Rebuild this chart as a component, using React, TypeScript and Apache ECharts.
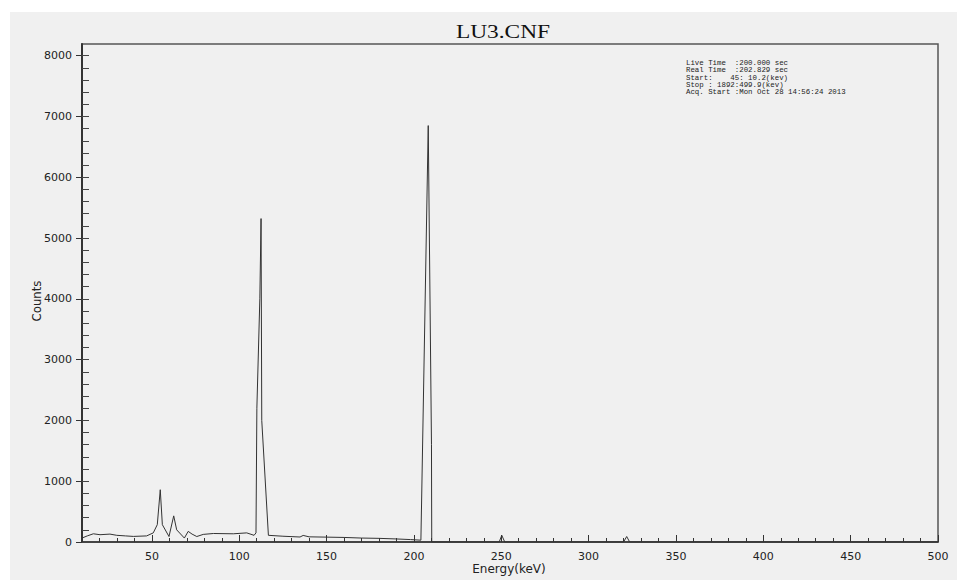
import React, { useEffect, useRef } from "react";
import * as echarts from "echarts";

// Spectrum points: energy (keV) and counts
const energies = [
  10, 13, 16.5, 20.3, 26, 29.9, 35, 39.4, 47, 50.8, 53.1, 54.8, 56, 59.8, 62.5, 64.2,
  68.6, 70.8, 73, 75.7, 79.4, 85.2, 96.6, 104.3, 108.5, 109.6, 110.1, 111.8, 112.5, 112.9,
  116.7, 125, 134.8, 136.6, 140, 150, 160, 170, 180, 190, 198, 204, 208.2, 210.05, 210.2,
  215, 248.8, 250.3, 252, 320, 321.8, 323.5, 500,
];
const counts = [
  65, 100, 135, 120, 130, 110, 100, 92, 100, 150, 285, 860, 285, 90, 430, 200,
  65, 175, 130, 90, 125, 140, 135, 150, 110, 150, 2200, 4000, 5320, 2000,
  110, 95, 82, 108, 85, 80, 75, 65, 60, 50, 40, 30, 6850, 1600, 0,
  0, 0, 110, 0, 0, 90, 0, 0,
];

const xMajor = [50, 100, 150, 200, 250, 300, 350, 400, 450, 500];
const xMinor = [20, 30, 40, 60, 70, 80, 90, 110, 120, 130, 140, 160, 170, 180, 190, 210, 220, 230, 240, 260, 270, 280, 290, 310, 320, 330, 340, 360, 370, 380, 390, 410, 420, 430, 440, 460, 470, 480, 490];
const yMajor = [0, 1000, 2000, 3000, 4000, 5000, 6000, 7000, 8000];
const yMinor = [0, 200, 400, 600, 800, 1000, 1200, 1400, 1600, 1800, 2000, 2200, 2400, 2600, 2800, 3000, 3200, 3400, 3600, 3800, 4000, 4200, 4400, 4600, 4800, 5000, 5200, 5400, 5600, 5800, 6000, 6200, 6400, 6600, 6800, 7000, 7200, 7400, 7600, 7800, 8000];

const titleText = "LU3.CNF";
const xName = "Energy(keV)";
const yName = "Counts";
const infoLines = [
  "Live Time  :200.000 sec",
  "Real Time  :202.829 sec",
  "Start:    45: 10.2(kev)",
  "Stop : 1892:499.9(kev)",
  "Acq. Start :Mon Oct 28 14:56:24 2013",
];

const X_MIN = 10;
const X_MAX = 500;
const Y_MAX = 8192;

export default function App() {
  const ref = useRef<HTMLDivElement>(null);
  useEffect(() => {
    if (!ref.current) return;
    const chart = echarts.init(ref.current, null, { renderer: "svg" });
    const data = energies.map((e, i) => [e, counts[i]]);
    const labelFont = {
      fontFamily: "DejaVu Sans",
      fontSize: 11,
      color: "#222",
      formatter: (v: number) => String(v),
    };
    chart.setOption({
      animation: false,
      backgroundColor: "#ffffff",
      grid: {
        left: 82,
        top: 44,
        right: 38,
        bottom: 38,
        show: true,
        borderColor: "#555",
        borderWidth: 1.5,
        backgroundColor: "transparent",
        containLabel: false,
        outerBoundsMode: "none",
      },
      xAxis: [
        {
          type: "value",
          position: "bottom",
          min: X_MIN,
          max: X_MAX,
          axisLine: { show: true, onZero: false, lineStyle: { color: "#333", width: 1.5 } },
          axisTick: { show: true, inside: true, length: 7, customValues: xMajor, lineStyle: { color: "#333" } },
          axisLabel: { show: true, customValues: xMajor, margin: 9, ...labelFont },
          splitLine: { show: false },
        },
        {
          type: "value",
          position: "bottom",
          min: X_MIN,
          max: X_MAX,
          axisLine: { show: false, onZero: false },
          axisTick: { show: true, inside: true, length: 4, customValues: xMinor, lineStyle: { color: "#333" } },
          axisLabel: { show: false },
          splitLine: { show: false },
        },
      ],
      yAxis: [
        {
          type: "value",
          position: "left",
          min: 0,
          max: Y_MAX,
          axisLine: { show: true, onZero: false, lineStyle: { color: "#333", width: 2 } },
          axisTick: { show: true, inside: false, length: 6, customValues: yMajor, lineStyle: { color: "#333" } },
          axisLabel: { show: true, customValues: yMajor, margin: 10, ...labelFont },
          splitLine: { show: false },
        },
        {
          type: "value",
          position: "left",
          min: 0,
          max: Y_MAX,
          axisLine: { show: false, onZero: false },
          axisTick: { show: true, inside: true, length: 7, customValues: yMinor, lineStyle: { color: "#444" } },
          axisLabel: { show: false },
          splitLine: { show: false },
        },
      ],
      graphic: [
        {
          type: "rect",
          z: -100,
          silent: true,
          shape: { x: 10, y: 12, width: 947, height: 568 },
          style: { fill: "#f0f0f0" },
        },
        {
          type: "text",
          x: 503,
          y: 32,
          scaleX: 1.3,
          style: {
            text: titleText,
            font: "18px 'Liberation Serif'",
            fill: "#111",
            align: "center",
            verticalAlign: "middle",
            textAlign: "center",
            textVerticalAlign: "middle",
          },
        },
        {
          type: "text",
          x: 686,
          y: 59,
          style: {
            text: infoLines.join("\n"),
            font: "7.4px 'Liberation Mono'",
            lineHeight: 7.4,
            fill: "#222",
            align: "left",
            verticalAlign: "top",
            textAlign: "left",
            textVerticalAlign: "top",
          },
        },
        {
          type: "text",
          x: 36,
          y: 301,
          rotation: Math.PI / 2,
          style: {
            text: yName,
            font: "13px 'DejaVu Sans Condensed'",
            fill: "#222",
            align: "center",
            verticalAlign: "middle",
            textAlign: "center",
            textVerticalAlign: "middle",
          },
        },
        {
          type: "text",
          x: 509,
          y: 569,
          style: {
            text: xName,
            font: "12px 'DejaVu Sans'",
            fill: "#222",
            align: "center",
            verticalAlign: "middle",
            textAlign: "center",
            textVerticalAlign: "middle",
          },
        },
      ],
      series: [
        {
          type: "line",
          xAxisIndex: 0,
          yAxisIndex: 0,
          data,
          symbol: "none",
          lineStyle: { color: "#333", width: 1 },
          silent: true,
        },
      ],
    });
    return () => chart.dispose();
  }, []);
  return (
    <div
      ref={ref}
      style={{ position: "absolute", left: 0, top: 0, width: 976, height: 580 }}
    />
  );
}
